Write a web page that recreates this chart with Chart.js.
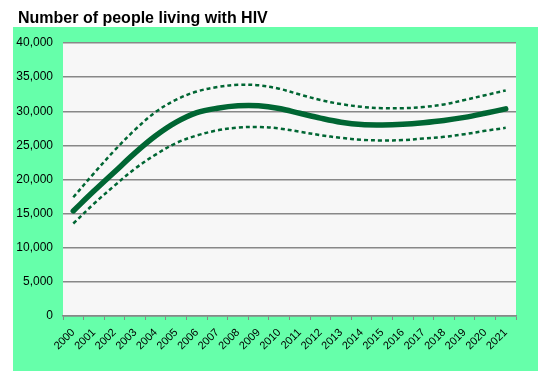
<!DOCTYPE html>
<html>
<head>
<meta charset="utf-8">
<script src="https://cdn.jsdelivr.net/npm/chart.js@4/dist/chart.umd.min.js"></script>
<style>
html,body{margin:0;padding:0;background:#fff;}
#wrap{width:551px;height:381px;position:relative;}
</style>
</head>
<body>
<div id="wrap"><canvas id="c" width="551" height="381"></canvas></div>
<script>
const titleText = "Number of people living with HIV";
const years = ["2000","2001","2002","2003","2004","2005","2006","2007","2008","2009","2010","2011","2012","2013","2014","2015","2016","2017","2018","2019","2020","2021"];
const estimate = [15400,18300,21100,23900,26400,28400,29800,30450,30800,30800,30400,29700,29000,28400,28050,28000,28100,28330,28650,29100,29700,30350];
const upperBound = [17400,20900,24250,27300,29900,31700,32900,33550,33880,33800,33300,32450,31650,31050,30650,30450,30450,30620,31000,31650,32350,33050];
const lowerBound = [13550,16450,19100,21600,23650,25350,26450,27200,27600,27700,27480,27000,26500,26100,25820,25720,25770,26010,26250,26640,27130,27570];
const yTicks = [0,5000,10000,15000,20000,25000,30000,35000,40000];

const lineColor = "#006633";

const bgPlugin = {
  id: 'bg',
  beforeDraw(chart) {
    const ctx = chart.ctx, a = chart.chartArea;
    ctx.save();
    ctx.fillStyle = '#ffffff';
    ctx.fillRect(0, 0, chart.width, chart.height);
    ctx.fillStyle = '#66FFAA';
    ctx.fillRect(13, 27, 525, 344);
    ctx.fillStyle = '#F7F7F7';
    ctx.fillRect(a.left, a.top, a.right - a.left, a.bottom - a.top);
    ctx.restore();
  },
  afterDraw(chart) {
    const ctx = chart.ctx;
    ctx.save();
    ctx.fillStyle = '#000';
    ctx.font = 'bold 16px "Liberation Sans", Arial, sans-serif';
    ctx.textBaseline = 'alphabetic';
    ctx.fillText(titleText, 18, 23);
    ctx.restore();
  }
};

new Chart(document.getElementById('c'), {
  type: 'line',
  data: {
    labels: years,
    datasets: [
      { label: 'Upper', data: upperBound, borderColor: lineColor, borderWidth: 2.5, borderDash: [4,3], pointRadius: 0, tension: 0.35, fill: false },
      { label: 'Estimate', data: estimate, borderColor: lineColor, borderWidth: 5.5, pointRadius: 0, tension: 0.35, fill: false, borderCapStyle: 'round' },
      { label: 'Lower', data: lowerBound, borderColor: lineColor, borderWidth: 2.5, borderDash: [4,3], pointRadius: 0, tension: 0.35, fill: false }
    ]
  },
  options: {
    responsive: false,
    animation: false,
    devicePixelRatio: 1,
    layout: { padding: { left: 13, right: 35, top: 43, bottom: 10 } },
    plugins: { legend: { display: false }, title: { display: false }, tooltip: { enabled: false } },
    scales: {
      x: {
        offset: true,
        grid: { offset: true, drawOnChartArea: false, drawTicks: true, tickLength: 4, color: '#888888' },
        border: { display: true, color: '#888888', width: 1.5 },
        ticks: { color: '#000', font: { family: '"Liberation Sans", Arial, sans-serif', size: 11 }, minRotation: 45, maxRotation: 45, autoSkip: false, padding: 6 },
        afterFit(s) { s.height = 55; }
      },
      y: {
        min: 0, max: 40000,
        afterBuildTicks(s) { s.ticks = yTicks.map(v => ({ value: v })); },
        grid: { color: '#888888', lineWidth: 1.5, drawTicks: false },
        border: { display: false },
        ticks: { color: '#000', font: { family: '"Liberation Sans", Arial, sans-serif', size: 12 }, padding: 10,
          callback: v => v.toLocaleString('en-US') },
        afterFit(s) { s.width = 50; }
      }
    }
  },
  plugins: [bgPlugin]
});
</script>
</body>
</html>
